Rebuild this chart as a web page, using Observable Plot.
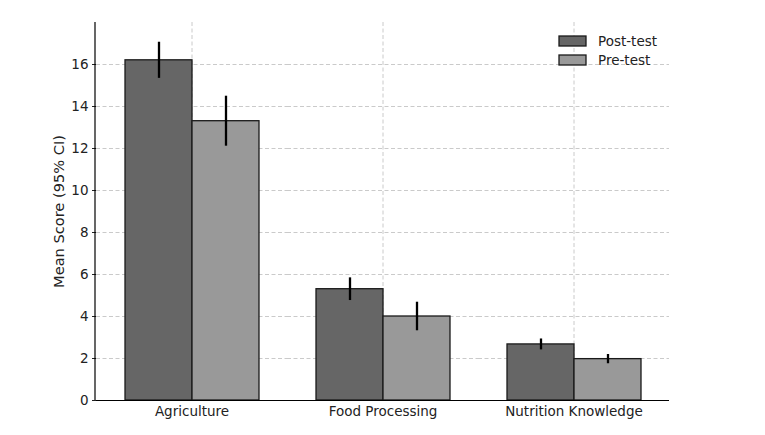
<!DOCTYPE html>
<html>
<head>
<meta charset="utf-8">
<script src="https://cdn.jsdelivr.net/npm/d3@7"></script>
<script src="https://cdn.jsdelivr.net/npm/@observablehq/plot@0.6"></script>
<style>
  html, body { margin: 0; padding: 0; background: #fff; }
  #chart { width: 765px; height: 435px; }
</style>
</head>
<body>
<div id="chart"></div>
<script>
const categories = ["Agriculture", "Food Processing", "Nutrition Knowledge"];
const seriesNames = ["Post-test", "Pre-test"];
const postMeans = [16.2, 5.3, 2.67];
const postCI = [0.86, 0.54, 0.26];
const preMeans = [13.3, 4.0, 1.97];
const preCI = [1.19, 0.68, 0.22];
const yTicks = [0, 2, 4, 6, 8, 10, 12, 14, 16];
const yLabel = "Mean Score (95% CI)";
const seriesColors = ["#666666", "#999999"];

const rows = categories.flatMap((c, i) => [
  {category: c, series: seriesNames[0], mean: postMeans[i], ci: postCI[i]},
  {category: c, series: seriesNames[1], mean: preMeans[i], ci: preCI[i]}
]);

const W = 765, H = 435, ML = 95, MR = 95, MT = 22, MB = 35;
const gridStyle = {stroke: "#bdbdbd", strokeOpacity: 1, strokeWidth: 0.8, strokeDasharray: "4,2.5"};

const chart = Plot.plot({
  width: W,
  height: H,
  marginLeft: ML,
  marginRight: MR,
  marginTop: MT,
  marginBottom: MB,
  style: {fontFamily: "DejaVu Sans", fontSize: "13.5px", color: "#222", background: "#fff", overflow: "visible"},
  fx: {domain: categories, padding: 0, label: null},
  x: {domain: seriesNames, paddingInner: 0, paddingOuter: 0.42, axis: null},
  y: {domain: [0, 18], label: yLabel},
  color: {domain: seriesNames, range: seriesColors},
  marks: [
    Plot.gridY({ticks: yTicks, ...gridStyle}),
    Plot.gridFx({...gridStyle}),
    Plot.axisY({ticks: yTicks, tickSize: 4, tickPadding: 4, label: null, fontSize: "13.5px"}),
    Plot.axisY({ticks: [], tickSize: 0, label: yLabel, labelAnchor: "center", labelArrow: "none", labelOffset: 43, fontSize: "14.6px"}),
    Plot.axisFx({anchor: "bottom", tickSize: 0, tickPadding: 6, label: null, fontSize: "13.5px"}),
    Plot.barY(rows, {fx: "category", x: "series", y: "mean", fill: "series", stroke: "#1a1a1a", strokeWidth: 1.3}),
    Plot.ruleX(rows, {fx: "category", x: "series", y1: d => d.mean - d.ci, y2: d => d.mean + d.ci, stroke: "#000", strokeWidth: 2.3}),
    Plot.ruleY([0], {stroke: "#000", strokeWidth: 1.2})
  ]
});

// left spine (axis line)
const ys = chart.scale("y");
const svg = d3.select(chart);
svg.append("line")
  .attr("x1", ML).attr("x2", ML)
  .attr("y1", ys.apply(18)).attr("y2", ys.apply(0))
  .attr("stroke", "#000").attr("stroke-width", 1.2);

// legend (inside plot area, upper right)
const lg = svg.append("g").attr("font-family", "DejaVu Sans").attr("font-size", "13.5px").attr("text-anchor", "start");
seriesNames.forEach((s, i) => {
  const yy = 36 + i * 19;
  lg.append("rect").attr("x", 559).attr("y", yy).attr("width", 27).attr("height", 10)
    .attr("fill", seriesColors[i]).attr("stroke", "#1a1a1a").attr("stroke-width", 1.3);
  lg.append("text").attr("x", 598).attr("y", yy + 5).attr("dy", "0.35em")
    .attr("text-anchor", "start").attr("fill", "#222").text(s);
});

document.getElementById("chart").appendChild(chart);
</script>
</body>
</html>
